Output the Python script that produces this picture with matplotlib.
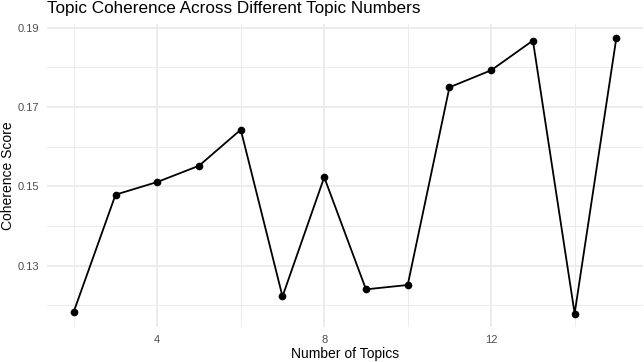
import numpy as np
import matplotlib.pyplot as plt

# data
topics = [2, 3, 4, 5, 6, 7, 8, 9, 10, 11, 12, 13, 14, 15]
coherence = [0.1184, 0.1479, 0.1511, 0.1552, 0.1643, 0.1222, 0.1523,
             0.1240, 0.1251, 0.1750, 0.1793, 0.1868, 0.1179, 0.1875]
x_ticks = [4, 8, 12]
y_ticks = [0.13, 0.15, 0.17, 0.19]

plt.rcParams['font.family'] = ['Liberation Sans', 'DejaVu Sans']

W, H = 644, 362
fig = plt.figure(figsize=(W / 100, H / 100), dpi=100)

# panel placement in pixels
left, right, top, bottom = 46.7, 643.5, 24.0, 327.3
ax = fig.add_axes([left / W, 1 - bottom / H, (right - left) / W, (bottom - top) / H])

grid_col = '#EBEBEB'

# ggplot-like expansion of 5%
xr = max(topics) - min(topics)
ax.set_xlim(min(topics) - 0.05 * xr, max(topics) + 0.05 * xr)
yr = max(coherence) - min(coherence)
ax.set_ylim(min(coherence) - 0.05 * yr, max(coherence) + 0.05 * yr)

ax.set_xticks(x_ticks)
ax.set_yticks(y_ticks)
ax.set_xticks([2, 6, 10, 14], minor=True)
ax.set_yticks([0.12, 0.14, 0.16, 0.18], minor=True)
ax.set_yticklabels(['%.2f' % v for v in y_ticks])

ax.grid(True, which='major', color=grid_col, linewidth=1.3)
ax.grid(True, which='minor', color=grid_col, linewidth=0.65)
ax.set_axisbelow(True)
for s in ax.spines.values():
    s.set_visible(False)
ax.tick_params(which='both', length=0)
ax.tick_params(axis='both', labelsize=8, colors='#4D4D4D', pad=5.5)

ax.plot(topics, coherence, color='black', linewidth=1.3, marker='o', markersize=4.5)

fig.text(left / W, 1 - 13.5 / H, 'Topic Coherence Across Different Topic Numbers',
         fontsize=12.3, ha='left', va='baseline')
fig.text((left + right) / 2 / W, 1 - 358.3 / H, 'Number of Topics',
         fontsize=10, ha='center', va='baseline')
fig.text(1.0 / W, 1 - (top + bottom) / 2 / H, 'Coherence Score',
         fontsize=10, ha='left', va='center', rotation=90)

fig.savefig('out.png', dpi=100)
